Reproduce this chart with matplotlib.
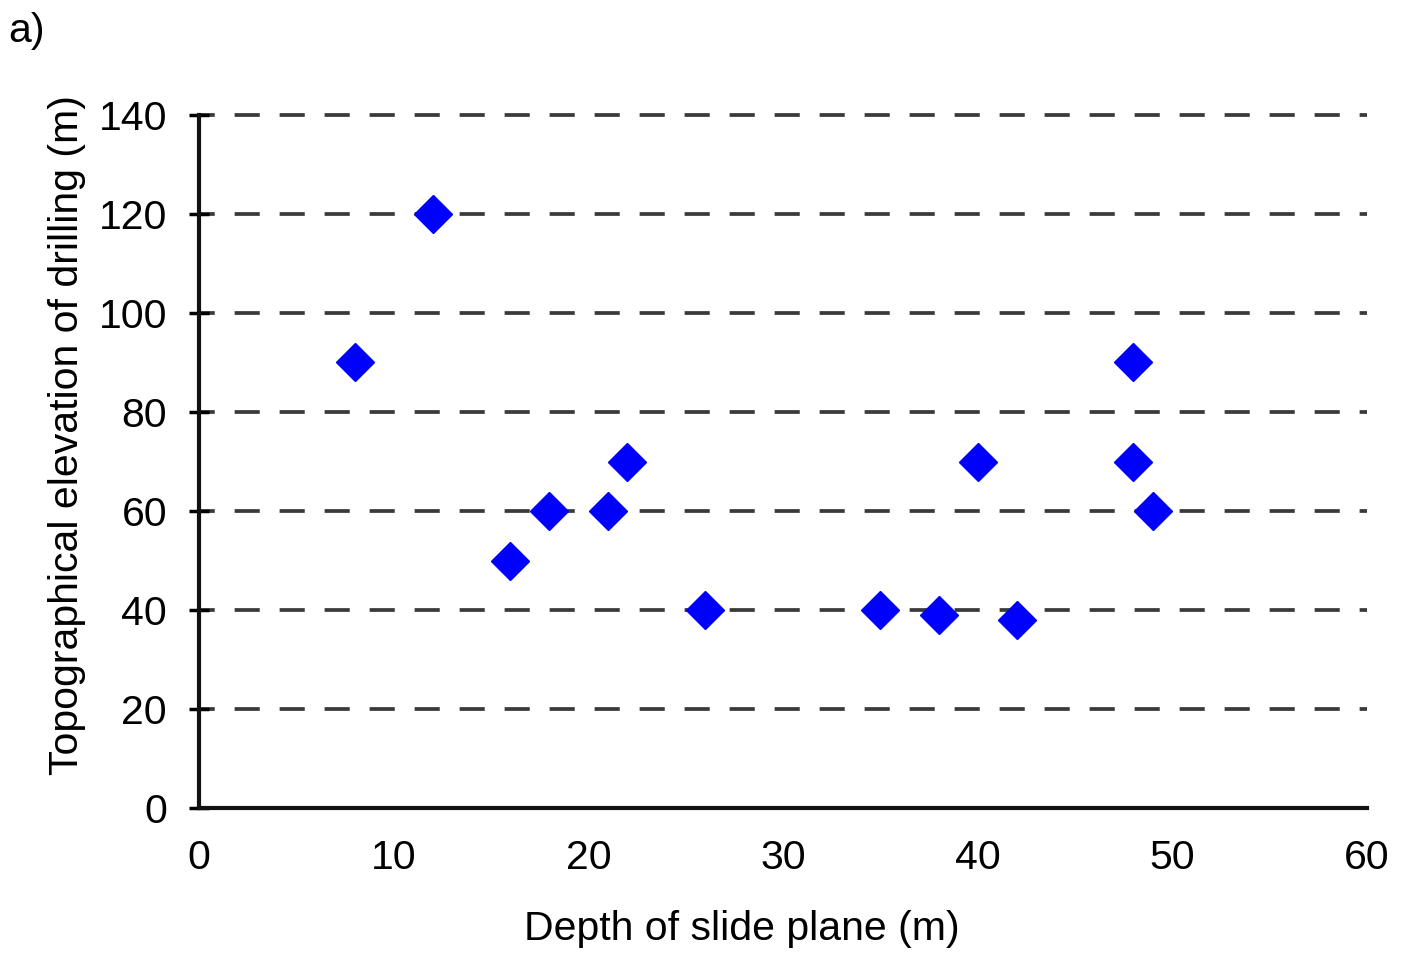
import matplotlib.pyplot as plt

# depth of slide plane (m) vs topographical elevation of drilling (m)
depth = [8, 12, 16, 18, 21, 22, 26, 35, 38, 42, 40, 48, 48, 49]
elevation = [90, 120, 50, 60, 60, 70, 40, 40, 39, 38, 70, 90, 70, 60]

x_ticks = [0, 10, 20, 30, 40, 50, 60]
y_ticks = [0, 20, 40, 60, 80, 100, 120, 140]

plt.rcParams['font.family'] = ['Liberation Sans', 'DejaVu Sans']

fig = plt.figure(figsize=(14.05, 9.55), dpi=100)
ax = fig.add_axes([0.1416, 0.1539, 0.8314, 0.7257])

for y in y_ticks[1:]:
    ax.axhline(y, color='#3a3a3a', lw=2.7, ls=(2.5, (6.7, 5.3)), zorder=1, clip_on=False)

ax.plot(depth, elevation, ls='none', marker='D', ms=19.5, color='#0000ff', zorder=3)

ax.set_xlim(0, 60)
ax.set_ylim(0, 140)
ax.set_xticks(x_ticks)
ax.set_yticks(y_ticks)
ax.tick_params(axis='x', length=0, pad=22, labelsize=29.5)
ax.tick_params(axis='y', direction='inout', length=14, width=2.5, pad=16, labelsize=29.5)

for s in ['top', 'right']:
    ax.spines[s].set_visible(False)
for s in ['left', 'bottom']:
    ax.spines[s].set_linewidth(3)
    ax.spines[s].set_color('#111111')

ax.set_xlabel('Depth of slide plane (m)', fontsize=29.5)
ax.set_ylabel('Topographical elevation of drilling (m)', fontsize=29.5)
ax.xaxis.set_label_coords(0.465, -0.147)
ax.yaxis.set_label_coords(-0.097, 0.538)

fig.text(0.006, 0.968, 'a)', fontsize=29.5, va='center')

fig.savefig('out.png', dpi=100)
